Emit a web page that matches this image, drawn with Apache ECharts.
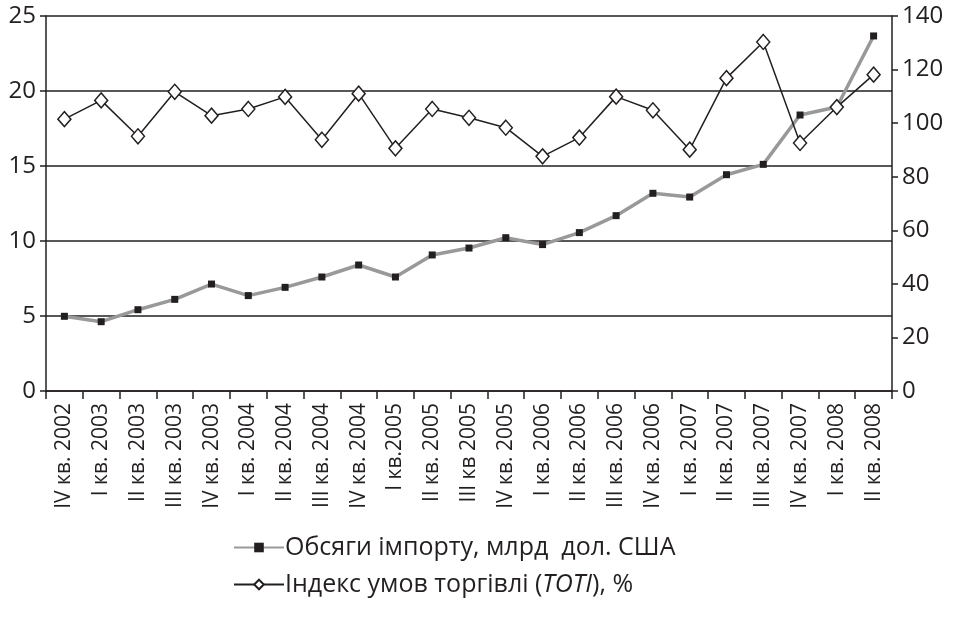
<!DOCTYPE html>
<html>
<head>
<meta charset="utf-8">
<script src="https://cdn.jsdelivr.net/npm/echarts@6/dist/echarts.min.js"></script>
<style>
	html, body { margin: 0; padding: 0; background: #fff; }
	#chart { width: 956px; height: 621px; }
</style>
</head>
<body>
<div id="chart"></div>
<script>
// кварталы
var quarters = [
	'IV кв. 2002', 'I кв. 2003', 'II кв. 2003', 'III кв. 2003', 'IV кв. 2003',
	'I кв. 2004', 'II кв. 2004', 'III кв. 2004', 'IV кв. 2004', 'I кв.2005',
	'II кв. 2005', 'III кв 2005', 'IV кв. 2005', 'I кв. 2006', 'II кв. 2006',
	'III кв. 2006', 'IV кв. 2006', 'I кв. 2007', 'II кв. 2007', 'III кв. 2007',
	'IV кв. 2007', 'I кв. 2008', 'II кв. 2008'
];
// обсяги імпорту, млрд дол. США (ліва вісь)
var importVolume = [
	4.98, 4.62, 5.42, 6.11, 7.13, 6.36, 6.91, 7.6, 8.4, 7.6, 9.07, 9.53,
	10.22, 9.76, 10.56, 11.69, 13.18, 12.93, 14.42, 15.11, 18.4, 18.93, 23.67
];
// індекс умов торгівлі TOTI, % (права вісь)
var totiIndex = [
	101.5, 108.5, 95.1, 111.7, 102.8, 105.3, 109.8, 93.8, 111.0, 90.6, 105.3, 102.0,
	98.3, 87.6, 94.6, 109.9, 104.8, 90.1, 116.8, 130.3, 92.6, 106.0, 118.1
];
var leftTicks = { min: 0, max: 25, interval: 5 };
var rightTicks = { min: 0, max: 140, interval: 20 };

var nameImport = 'Обсяги імпорту, млрд  дол. США';
var nameToti = 'Індекс умов торгівлі (TOTI), %';

var font = '"Open Sans", "Noto Sans", sans-serif';
var ink = '#231f20';
var chart = echarts.init(document.getElementById('chart'));

chart.setOption({
	animation: false,
	textStyle: { fontFamily: font },
	grid: { left: 46, right: 64, top: 16, bottom: 230 },
	legend: {
		orient: 'vertical',
		left: 228,
		top: 530,
		itemWidth: 50,
		itemHeight: 12,
		itemGap: 12,
		selectedMode: false,
		textStyle: {
			fontSize: 25,
			color: ink,
			fontFamily: font,
			padding: [0, 0, 0, -4],
			rich: {
				a: { fontSize: 25, color: ink, fontFamily: font },
				i: { fontSize: 25, color: ink, fontFamily: font, fontStyle: 'italic' }
			}
		},
		formatter: function (name) {
			if (name === nameToti) {
				return '{a|Індекс умов торгівлі (}{i|TOTI}{a|), %}';
			}
			return name;
		},
		data: [nameImport, nameToti]
	},
	xAxis: {
		type: 'category',
		data: quarters,
		boundaryGap: true,
		axisLine: { lineStyle: { color: ink, width: 1.5 } },
		axisTick: { show: true, length: 8, lineStyle: { color: ink, width: 1.5 } },
		axisLabel: {
			rotate: 90,
			interval: 0,
			margin: 12,
			fontSize: 21,
			color: ink,
			fontFamily: font
		}
	},
	yAxis: [
		{
			type: 'value',
			min: leftTicks.min,
			max: leftTicks.max,
			interval: leftTicks.interval,
			axisLine: { show: true, lineStyle: { color: ink, width: 1.5 } },
			axisTick: { show: true, length: 6, lineStyle: { color: ink, width: 1.5 } },
			axisLabel: { fontSize: 24, color: ink, margin: 10, fontFamily: font },
			splitLine: { show: true, lineStyle: { color: ink, width: 1.5 } }
		},
		{
			type: 'value',
			min: rightTicks.min,
			max: rightTicks.max,
			interval: rightTicks.interval,
			position: 'right',
			axisLine: { show: true, lineStyle: { color: ink, width: 1.5 } },
			axisTick: { show: true, length: 6, lineStyle: { color: ink, width: 1.5 } },
			axisLabel: { fontSize: 24, color: ink, margin: 10, fontFamily: font },
			splitLine: { show: false }
		}
	],
	series: [
		{
			name: nameImport,
			type: 'line',
			yAxisIndex: 0,
			data: importVolume,
			symbol: 'rect',
			symbolSize: 7,
			lineStyle: { color: '#999999', width: 3.5 },
			itemStyle: { color: ink, borderWidth: 0 },
			z: 2
		},
		{
			name: nameToti,
			type: 'line',
			yAxisIndex: 1,
			data: totiIndex,
			symbol: 'diamond',
			symbolSize: [13, 15],
			showAllSymbol: true,
			lineStyle: { color: ink, width: 1.5 },
			itemStyle: { color: '#ffffff', borderColor: ink, borderWidth: 1.5 },
			z: 3
		}
	]
});
</script>
</body>
</html>
